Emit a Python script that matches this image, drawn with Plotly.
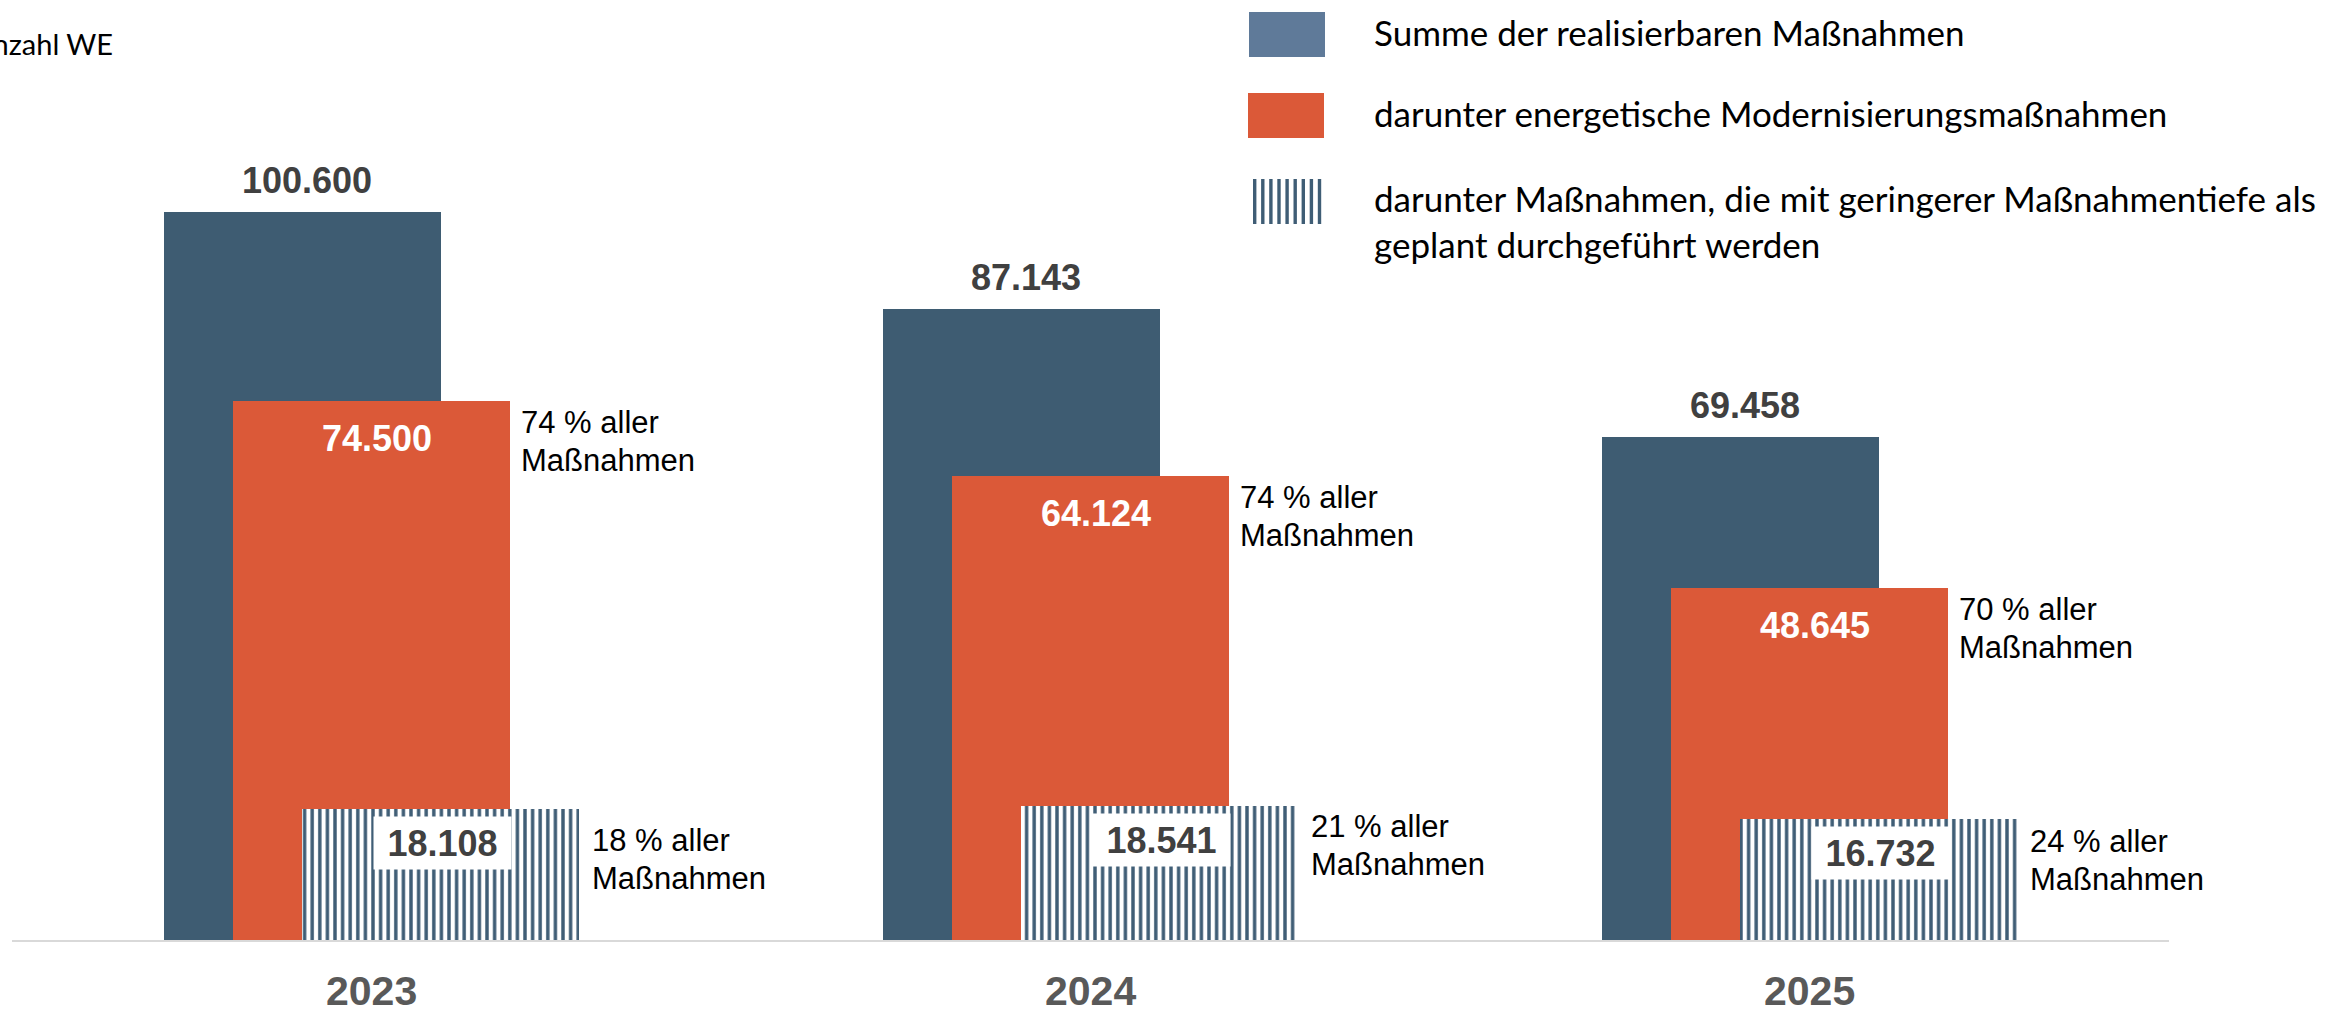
import plotly.graph_objects as go

# ---------------- data ----------------
years = ["2023", "2024", "2025"]
total = [100600, 87143, 69458]            # Summe der realisierbaren Maßnahmen
energetic = [74500, 64124, 48645]         # darunter energetische Modernisierungsmaßnahmen
reduced = [18108, 18541, 16732]           # darunter mit geringerer Maßnahmentiefe
energetic_share = [74, 74, 70]            # % aller Maßnahmen
reduced_share = [18, 21, 24]              # % aller Maßnahmen

legend_labels = [
    "Summe der realisierbaren Maßnahmen",
    "darunter energetische Modernisierungsmaßnahmen",
    "darunter Maßnahmen, die mit geringerer Maßnahmentiefe als",
    "geplant durchgeführt werden",
]
y_title = "Anzahl WE"
share_line1 = "{} % aller"
share_line2 = "Maßnahmen"

# ---------------- layout constants ----------------
W, H = 2326, 1010
ML, MR, MT, MB = 12, 157, 10, 70
PW = W - ML - MR
PH = H - MT - MB


def px_x(px):
    return (px - ML) / PW


def px_y(py):
    return (H - MB - py) / PH


BLUE = "#3e5c72"
ORANGE = "#db5938"
STRIPE = "#3f5d75"
LEG_BLUE = "#5f7a99"
VAL_GRAY = "#404040"
YEAR_GRAY = "#595959"
ARIAL = "Liberation Sans, Arial, sans-serif"
CAL = "Lato, Calibri, sans-serif"

OFF = 0.096   # shift of the three bars within a group (in category units)
BW = 0.3853   # bar width (in category units)

def fmt(v):
    return f"{v:,}".replace(",", ".")

pos = list(range(len(years)))
hatch_nudge = [10, -1, 1]  # manual vertical nudge of share labels (px)
LINE1, LSP = 22, 38        # first-line offset below bar top, line spacing (px)

fig = go.Figure()
fig.add_bar(x=[p - OFF for p in pos], y=total, width=BW,
            marker=dict(color=BLUE, line=dict(width=0)),
            name=legend_labels[0], showlegend=False, hoverinfo="skip")
fig.add_bar(x=pos, y=energetic, width=BW,
            marker=dict(color=ORANGE, line=dict(width=0)),
            name=legend_labels[1], showlegend=False, hoverinfo="skip")
fig.add_bar(x=[p + OFF for p in pos], y=reduced, width=BW,
            marker=dict(color="white", line=dict(width=0),
                        pattern=dict(shape="|", size=7.6, solidity=0.45,
                                     fgcolor=STRIPE, bgcolor="white",
                                     fillmode="replace")),
            name=legend_labels[2], showlegend=False, hoverinfo="skip")

ann = []


def share_label(x, y, pct, xshift, first):
    out = []
    for k, t in enumerate([share_line1.format(pct), share_line2]):
        out.append(dict(x=x, y=y, text=t, showarrow=False,
                        xanchor="left", yanchor="middle",
                        xshift=xshift, yshift=-(first + k * LSP),
                        font=dict(family=ARIAL, size=31, color="black")))
    return out


for i, p in enumerate(pos):
    # total value above blue bar
    ann.append(dict(x=p - OFF, y=total[i], text=f"<b>{fmt(total[i])}</b>",
                    showarrow=False, yanchor="middle", yshift=32, xshift=5,
                    font=dict(family=ARIAL, size=36, color=VAL_GRAY)))
    # energetic value inside orange bar
    ann.append(dict(x=p, y=energetic[i], text=f"<b>{fmt(energetic[i])}</b>",
                    showarrow=False, yanchor="middle", yshift=-38, xshift=5,
                    font=dict(family=ARIAL, size=36, color="white")))
    # reduced value in white box on hatched bar
    ann.append(dict(x=p + OFF, y=reduced[i], text=f"<b>{fmt(reduced[i])}</b>",
                    showarrow=False, yanchor="top", yshift=-7, xshift=2,
                    bgcolor="white", width=127, height=42, borderpad=5,
                    align="center",
                    font=dict(family=ARIAL, size=36, color=VAL_GRAY)))
    # share labels
    ann += share_label(p + BW / 2, energetic[i], energetic_share[i], 9, LINE1)
    ann += share_label(p + OFF + BW / 2, reduced[i], reduced_share[i], 11,
                       LINE1 + hatch_nudge[i])
    # year label
    ann.append(dict(x=p, y=0, text=f"<b>{years[i]}</b>", showarrow=False,
                    yanchor="middle", yshift=-51,
                    font=dict(family=ARIAL, size=41, color=YEAR_GRAY)))

# axis title (partly cut at the left edge, as in the original)
ann.append(dict(xref="paper", yref="paper", x=px_x(115), y=px_y(44),
                text=y_title, showarrow=False, xanchor="right", yanchor="middle",
                font=dict(family=CAL, size=29, color="black")))

# custom legend
leg_text_y = [32, 113, 198, 244]
for txt, ty in zip(legend_labels, leg_text_y):
    ann.append(dict(xref="paper", yref="paper", x=px_x(1372), y=px_y(ty),
                    text=txt, showarrow=False, xanchor="left", yanchor="middle",
                    font=dict(family=CAL, size=35, color="black")))

shapes = [
    dict(type="rect", xref="paper", yref="paper", x0=px_x(1249), x1=px_x(1325),
         y0=px_y(57), y1=px_y(12), fillcolor=LEG_BLUE, line=dict(width=0)),
    dict(type="rect", xref="paper", yref="paper", x0=px_x(1248), x1=px_x(1324),
         y0=px_y(138), y1=px_y(93), fillcolor=ORANGE, line=dict(width=0)),
]
for k in range(9):
    x0 = 1253 + k * 8.1
    shapes.append(dict(type="rect", xref="paper", yref="paper",
                       x0=px_x(x0), x1=px_x(x0 + 3.4),
                       y0=px_y(224), y1=px_y(179), fillcolor=STRIPE,
                       line=dict(width=0)))

fig.update_layout(
    width=W, height=H,
    margin=dict(l=ML, r=MR, t=MT, b=MB, pad=0),
    paper_bgcolor="white", plot_bgcolor="white",
    barmode="overlay", bargap=0,
    showlegend=False,
    annotations=ann, shapes=shapes,
    xaxis=dict(range=[-0.5, 2.5], showgrid=False, zeroline=False,
               showticklabels=False, ticks="", showline=True,
               linecolor="#d9d9d9", linewidth=2, fixedrange=True),
    yaxis=dict(range=[0, 930 / (728 / 100600)], showgrid=False, zeroline=False,
               showticklabels=False, ticks="", showline=False, fixedrange=True),
    separators=",.",
)

fig.write_html("out.html", config={"displayModeBar": False},
               post_script="document.body.style.margin='0';document.body.style.overflow='hidden';")
